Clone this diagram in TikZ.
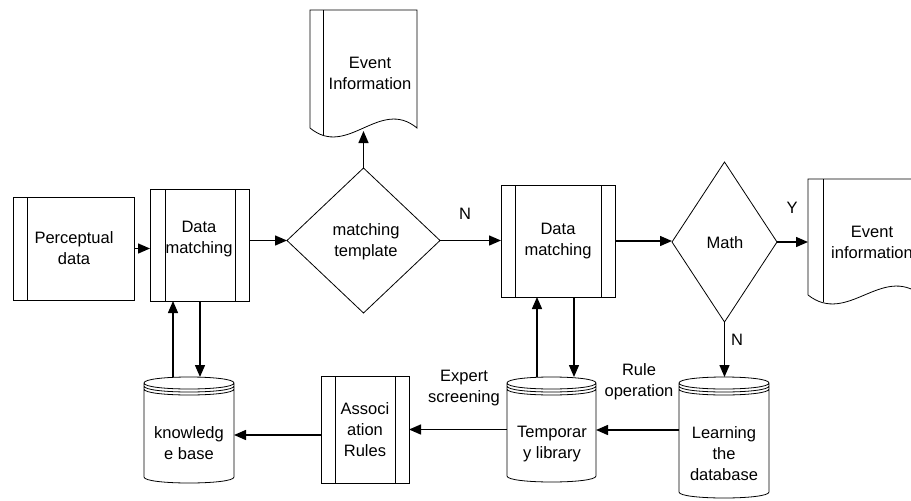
\documentclass[tikz,border=0pt]{standalone}
\usepackage{fontspec}
\setmainfont{Liberation Sans}
\usetikzlibrary{arrows.meta,calc,shapes.geometric}

% vertical bar inside a process box, measured from the left / right edge
\newcommand\leftbar[2]{\draw[shapeline] ($(#1.north west)+(#2,0)$) -- ($(#1.south west)+(#2,0)$);}
\newcommand\rightbar[2]{\draw[shapeline] ($(#1.north east)+(-#2,0)$) -- ($(#1.south east)+(-#2,0)$);}

% document symbol with a wavy lower edge and a bar near its left side
\newcommand\docshape[2]{%
  \draw[shapeline] (#1.south west) -- (#1.north west) -- (#1.north east) -- (#1.south east)
    .. controls ($(#1.south west)!0.65!(#1.south east)+(0,-31)$) and
                ($(#1.south west)!0.35!(#1.south east)+(0,31)$) .. (#1.south west);
  \draw[shapeline] ($(#1.north west)+(#2,0)$) -- ($(#1.south west)+(#2,7)$);}

% database cylinder with a triple rim on top
\newcommand\cylshape[1]{%
  \draw[shapeline] let \p1=(#1.north west), \p2=(#1.south east) in
    (\x1,\y1-6pt) -- (\x1,\y2+6pt)
      .. controls (\x1,\y2-2pt) and (\x2,\y2-2pt) .. (\x2,\y2+6pt) -- (\x2,\y1-6pt)
    (\x1,\y1-6pt) .. controls (\x1,\y1+2pt) and (\x2,\y1+2pt) .. (\x2,\y1-6pt)
      .. controls (\x2,\y1-14pt) and (\x1,\y1-14pt) .. (\x1,\y1-6pt)
    (\x1,\y1-9pt) .. controls (\x1,\y1-17pt) and (\x2,\y1-17pt) .. (\x2,\y1-9pt)
    (\x1,\y1-12pt) .. controls (\x1,\y1-20pt) and (\x2,\y1-20pt) .. (\x2,\y1-12pt);}

\begin{document}
\begin{tikzpicture}[x=1pt,y=-1pt,
  shapeline/.style={draw, line width=0.8pt},
  box/.style={shapeline, rectangle, inner sep=0pt, outer sep=0pt},
  blank/.style={rectangle, draw=none, inner sep=0pt, outer sep=0pt},
  decision/.style={shapeline, diamond, inner sep=0pt, outer sep=0pt},
  txt/.style={align=center, inner sep=0pt, font=\fontsize{16.5}{21}\selectfont},
  flow/.style={line width=1.4pt, -{Triangle[length=12pt,width=10pt]}},
]
\useasboundingbox (0,0) rectangle (911,501);

% shapes
\node[box, minimum width=121, minimum height=103] (pd) at (73.5,248.5) {};
\node[box, minimum width=99, minimum height=112] (dm1) at (199.5,245) {};
\node[decision, minimum width=153, minimum height=145] (mt) at (363.5,240.5) {};
\node[blank, minimum width=107, minimum height=118] (evt1) at (363.5,69) {};
\node[box, minimum width=114, minimum height=112] (dm2) at (558,241) {};
\node[decision, minimum width=105, minimum height=160] (math) at (724.5,242) {};
\node[blank, minimum width=113, minimum height=116] (evt2) at (864.5,237) {};
\node[blank, minimum width=90, minimum height=106] (kb) at (189,430) {};
\node[box, minimum width=88, minimum height=107] (assoc) at (365,429.5) {};
\node[blank, minimum width=89, minimum height=105] (temp) at (551.5,429.5) {};
\node[blank, minimum width=90, minimum height=121] (learn) at (724,437.5) {};

\leftbar{pd}{14}
\leftbar{dm1}{15}\rightbar{dm1}{14}
\leftbar{dm2}{14}\rightbar{dm2}{14}
\leftbar{assoc}{14}\rightbar{assoc}{14}
\docshape{evt1}{13}
\docshape{evt2}{15}
\cylshape{kb}
\cylshape{temp}
\cylshape{learn}

% texts
\node[txt] (pdt) at (74,248) {Perceptual\\data};
\node[txt] (dm1t) at (199,239) {Data\\matching};
\node[txt] (mtt) at (366,242) {matching\\template};
\node[txt] (evt1t) at (370,73) {Event\\Information};
\node[txt] (dm2t) at (558,241.5) {Data\\matching};
\node[txt] (matht) at (725,243) {Math};
\node[txt] (evt2t) at (872,242) {Event\\information};
\node[txt] (kbt) at (189,443) {knowledg\\e base};
\node[txt] (assoct) at (365,430) {Associ\\ation\\Rules};
\node[txt] (tempt) at (552,444) {Temporar\\y library};
\node[txt] (learnt) at (724,454) {Learning\\the\\database};
\node[txt] (lbN1) at (465,214) {N};
\node[txt] (lbY) at (792,208) {Y};
\node[txt] (lbN2) at (737,340) {N};
\node[txt] (lbexp) at (464,388) {Expert\\screening};
\node[txt] (lbrule) at (639,382) {Rule\\operation};

% connectors
\coordinate (kbA) at ($(kb.north)+(-16,0)$);
\coordinate (kbB) at ($(kb.north)+(11,0)$);
\coordinate (tempA) at ($(temp.north)+(-14.5,0)$);
\coordinate (tempB) at ($(temp.north)+(22.5,0)$);
\coordinate (learnA) at ($(learn.west)+(0,-7.5)$);
\coordinate (assocA) at ($(assoc.west)+(0,5.5)$);
\coordinate (evt1A) at ($(mt.north |- evt1.south)+(0,3)$);

\draw[flow] (pd.east) -- (pd.east -| dm1.west);
\draw[flow] (dm1.east |- mt.west) -- (mt.west);
\draw[flow] (mt.north) -- (evt1A);
\draw[flow] (mt.east) -- (mt.east -| dm2.west);
\draw[flow] (dm2.east) -- (dm2.east -| math.west);
\draw[flow] (math.east) -- (math.east -| evt2.west);
\draw[flow] (math.south) -- (math.south |- learn.north);
\draw[flow] (kbA) -- (kbA |- dm1.south);
\draw[flow] (kbB |- dm1.south) -- (kbB);
\draw[flow] (tempA) -- (tempA |- dm2.south);
\draw[flow] (tempB |- dm2.south) -- (tempB);
\draw[flow] (learnA) -- (learnA -| temp.east);
\draw[flow] (temp.west) -- (temp.west -| assoc.east);
\draw[flow] (assocA) -- (assocA -| kb.east);
\end{tikzpicture}
\end{document}
